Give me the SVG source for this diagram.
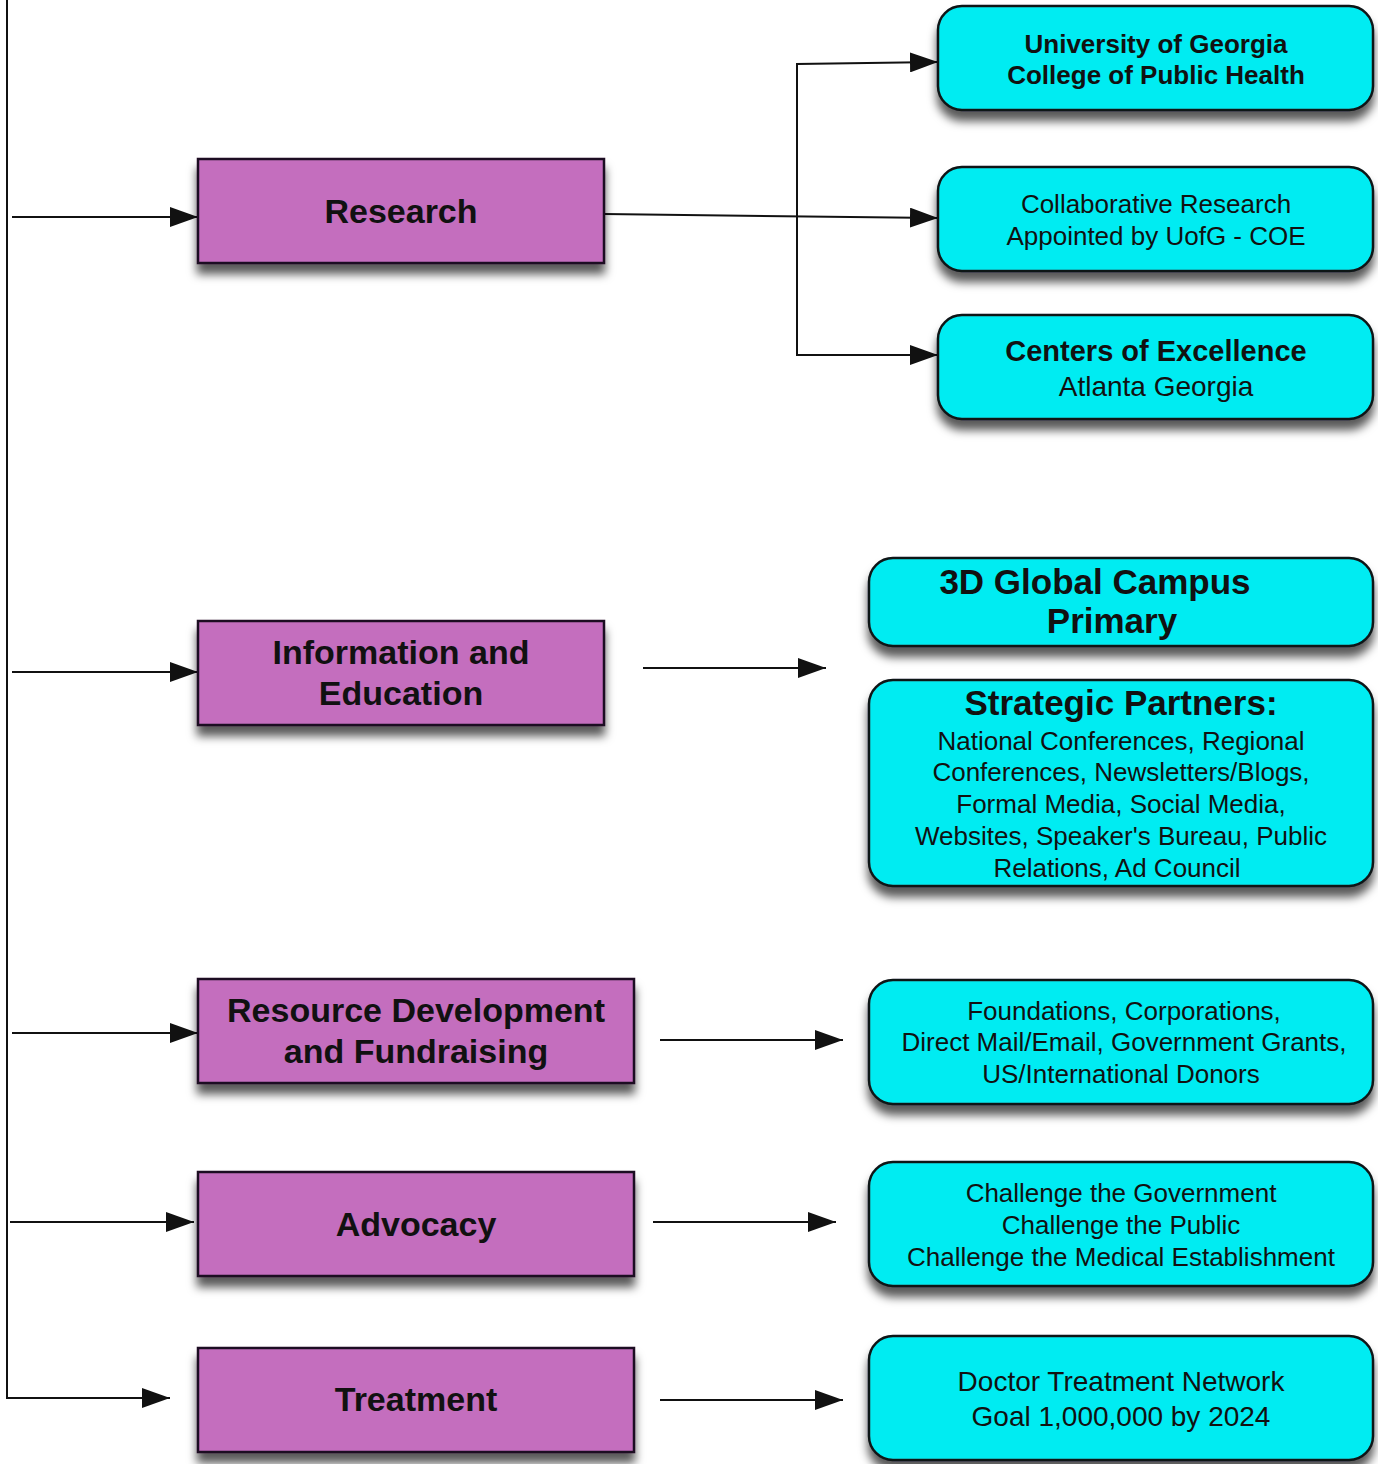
<svg xmlns="http://www.w3.org/2000/svg" width="1378" height="1464" viewBox="0 0 1378 1464">
<style>
.p{fill:#C46EBE;stroke:#1a1020;stroke-width:2.5}
.c{fill:#05ECF2;stroke:#101418;stroke-width:2.5}
text{font-family:"Liberation Sans",Arial,sans-serif;fill:#111;text-anchor:middle}
.b{font-weight:bold}
.pt{font-size:34px;font-weight:bold}
.l{fill:none;stroke:#111;stroke-width:2}
</style>
<defs>
<filter id="sh" x="-10%" y="-20%" width="120%" height="160%">
<feDropShadow dx="0" dy="10" stdDeviation="5" flood-color="#000" flood-opacity="0.65"/>
</filter>
<marker id="ah" viewBox="0 0 28 20" refX="28" refY="10" markerWidth="28" markerHeight="20" markerUnits="userSpaceOnUse" orient="auto">
<path d="M0,0 L28,10 L0,20 Z" fill="#111"/>
</marker>
</defs>
<rect width="1378" height="1464" fill="#fff"/>
<g id="connectors">
<path class="l" d="M7,0 V1398 H170" marker-end="url(#ah)"/>
<path class="l" d="M12,217 H198" marker-end="url(#ah)"/>
<path class="l" d="M12,672 H198" marker-end="url(#ah)"/>
<path class="l" d="M12,1033 H198" marker-end="url(#ah)"/>
<path class="l" d="M10,1222 H194" marker-end="url(#ah)"/>
<path class="l" d="M604,214 L938,218" marker-end="url(#ah)"/>
<path class="l" d="M797,200 V64 L938,62" marker-end="url(#ah)"/>
<path class="l" d="M797,200 V355 H938" marker-end="url(#ah)"/>
<path class="l" d="M643,668 H826" marker-end="url(#ah)"/>
<path class="l" d="M660,1040 H843" marker-end="url(#ah)"/>
<path class="l" d="M653,1222 H836" marker-end="url(#ah)"/>
<path class="l" d="M660,1400 H843" marker-end="url(#ah)"/>
</g>
<g id="research">
<rect class="p" x="198" y="159" width="406" height="104" filter="url(#sh)"/>
<text class="pt" x="401" y="223">Research</text>
</g>
<g id="info">
<rect class="p" x="198" y="621" width="406" height="104" filter="url(#sh)"/>
<text class="pt" x="401" y="664">Information and</text>
<text class="pt" x="401" y="705">Education</text>
</g>
<g id="resource">
<rect class="p" x="198" y="979" width="436" height="104" filter="url(#sh)"/>
<text class="pt" x="416" y="1022">Resource Development</text>
<text class="pt" x="416" y="1063">and Fundraising</text>
</g>
<g id="advocacy">
<rect class="p" x="198" y="1172" width="436" height="104" filter="url(#sh)"/>
<text class="pt" x="416" y="1236">Advocacy</text>
</g>
<g id="treatment">
<rect class="p" x="198" y="1348" width="436" height="104" filter="url(#sh)"/>
<text class="pt" x="416" y="1411">Treatment</text>
</g>
<g id="uga">
<rect class="c" x="938" y="6" width="435" height="104" rx="24" filter="url(#sh)"/>
<text class="b" x="1156" y="53" font-size="26">University of Georgia</text>
<text class="b" x="1156" y="84" font-size="26">College of Public Health</text>
</g>
<g id="collab">
<rect class="c" x="938" y="167" width="435" height="104" rx="24" filter="url(#sh)"/>
<text x="1156" y="213" font-size="26">Collaborative Research</text>
<text x="1156" y="245" font-size="26">Appointed by UofG - COE</text>
</g>
<g id="centers">
<rect class="c" x="938" y="315" width="435" height="104" rx="24" filter="url(#sh)"/>
<text class="b" x="1156" y="361" font-size="29">Centers of Excellence</text>
<text x="1156" y="396" font-size="28">Atlanta Georgia</text>
</g>
<g id="campus">
<rect class="c" x="869" y="558" width="504" height="88" rx="24" filter="url(#sh)"/>
<text class="b" x="1095" y="594" font-size="35">3D Global Campus</text>
<text class="b" x="1112" y="633" font-size="35">Primary</text>
</g>
<g id="partners">
<rect class="c" x="869" y="680" width="504" height="206" rx="24" filter="url(#sh)"/>
<text class="b" x="1121" y="715" font-size="35">Strategic Partners:</text>
<text x="1121" y="750" font-size="26">National Conferences, Regional</text>
<text x="1121" y="781" font-size="26">Conferences, Newsletters/Blogs,</text>
<text x="1121" y="813" font-size="26">Formal Media, Social Media,</text>
<text x="1121" y="845" font-size="26">Websites, Speaker's Bureau, Public</text>
<text x="1117" y="877" font-size="26">Relations, Ad Council</text>
</g>
<g id="foundations">
<rect class="c" x="869" y="980" width="504" height="124" rx="24" filter="url(#sh)"/>
<text x="1124" y="1020" font-size="26">Foundations, Corporations,</text>
<text x="1124" y="1051" font-size="26">Direct Mail/Email, Government Grants,</text>
<text x="1121" y="1083" font-size="26">US/International Donors</text>
</g>
<g id="challenge">
<rect class="c" x="869" y="1162" width="504" height="124" rx="24" filter="url(#sh)"/>
<text x="1121" y="1202" font-size="26">Challenge the Government</text>
<text x="1121" y="1234" font-size="26">Challenge the Public</text>
<text x="1121" y="1266" font-size="26">Challenge the Medical Establishment</text>
</g>
<g id="doctor">
<rect class="c" x="869" y="1336" width="504" height="124" rx="24" filter="url(#sh)"/>
<text x="1121" y="1391" font-size="28">Doctor Treatment Network</text>
<text x="1121" y="1426" font-size="28">Goal 1,000,000 by 2024</text>
</g>
</svg>
